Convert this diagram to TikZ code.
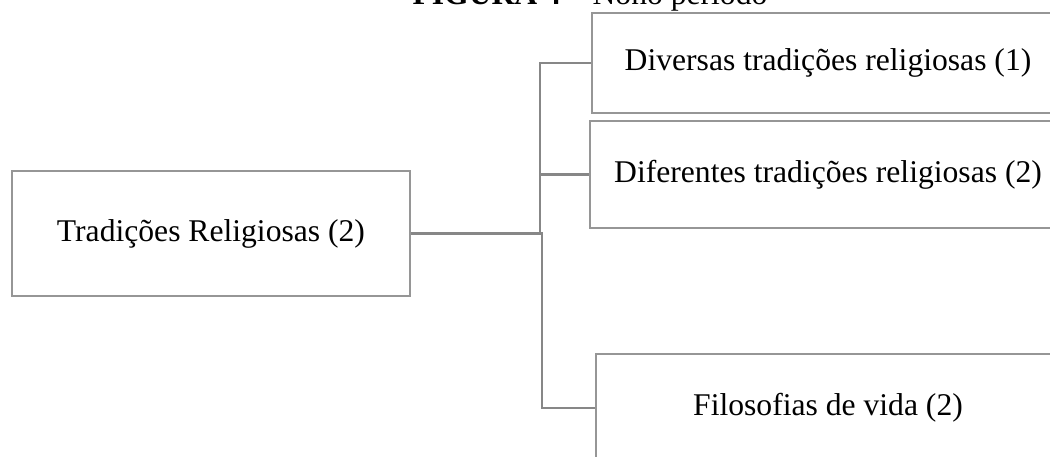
\documentclass[tikz,border=0pt]{standalone}
\usepackage{fontspec}
\setmainfont{Liberation Serif}
\definecolor{boxgray}{RGB}{150,150,150}
\definecolor{linegray}{RGB}{135,135,135}

\begin{document}
\begin{tikzpicture}[x=0.02cm, y=-0.02cm,
    box/.style={draw=boxgray, line width=1.4pt, fill=white, align=center, inner sep=0pt,
        font=\fontsize{18}{21.6}\selectfont},
    link/.style={draw=linegray, line width=1.4pt}]
    % Page frame
    \useasboundingbox (0,0) rectangle (1050,456);
    \clip (0,0) rectangle (1050,456);

    % Title
    \node[anchor=base, inner sep=0pt, font=\fontsize{18}{21.6}\selectfont] (title) at (590,5)
        {\textbf{FIGURA 4} -- Nono período};

    % Boxes
    \node[box, minimum width=7.96cm, minimum height=2.5cm] (trad) at (211,233.5) {Tradições Religiosas (2)};
    \node[box, minimum width=9.44cm, minimum height=2cm] (div) at (828,63) {Diversas tradições religiosas (1)};
    \node[box, minimum width=9.52cm, minimum height=2.14cm] (dif) at (828,174.5) {Diferentes tradições religiosas (2)};
    \node[box, minimum width=9.28cm, minimum height=2.16cm] (filo) at (828,408) {Filosofias de vida (2)};

    % Junction points
    \coordinate (up) at (540,233.5);
    \coordinate (dn) at (542,233.5);

    % Connectors
    \draw[link] (trad.east) -- (dn) -- (dn |- filo.west) -- (filo.west);
    \draw[link] (up) |- (div.west);
    \draw[link] (up) |- (dif.west);
\end{tikzpicture}
\end{document}
